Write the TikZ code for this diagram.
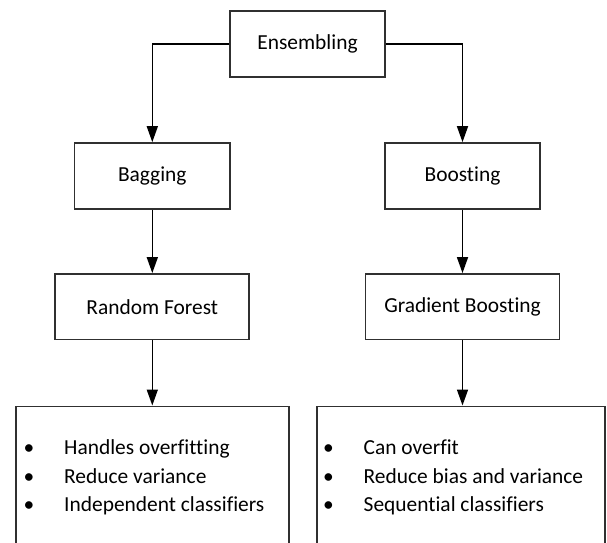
\documentclass[tikz,border=0pt]{standalone}
\usepackage{fontspec}
\setmainfont[Ligatures=NoCommon]{Carlito}
\usetikzlibrary{arrows.meta}
\definecolor{edge}{HTML}{303030}
\begin{document}
\begin{tikzpicture}[x=1bp,y=-1bp,
  box/.style={draw=edge,line width=1.7bp,fill=white,inner sep=0pt,font=\fontsize{21.5}{24}\selectfont},
  conn/.style={line width=1.6bp,-{Triangle[length=16bp,width=11bp]}},
  item/.style={anchor=base west,inner sep=0pt,font=\fontsize{21.5}{24}\selectfont},
  bul/.style={anchor=base,inner sep=0pt,font=\fontsize{21.5}{24}\selectfont}]
\useasboundingbox (0,0) rectangle (607,543);
\node[box,minimum width=155bp,minimum height=66bp] (ens) at (307.5,44) {Ensembling};
\node[box,minimum width=155.5bp,minimum height=66bp] (bag) at (152.3,176) {Bagging};
\node[box,minimum width=155.5bp,minimum height=66bp] (boo) at (462.5,176) {Boosting};
\node[box,minimum width=194bp,minimum height=65.5bp] (rf) at (152.3,306.7) {Random Forest};
\node[box,minimum width=194bp,minimum height=65.5bp] (gb) at (462.5,306.7) {Gradient Boosting};
\node[box,minimum width=273bp,minimum height=170bp,anchor=north] (lb) at (152.5,405.5) {};
\node[box,minimum width=288bp,minimum height=170bp,anchor=north] (rb) at (461,405.5) {};
\draw[conn] (ens.west) -| (bag.north);
\draw[conn] (ens.east) -| (boo.north);
\draw[conn] (bag) -- (rf);
\draw[conn] (boo) -- (gb);
\draw[conn] (rf.south) -- (rf.south |- lb.north);
\draw[conn] (gb.south) -- (gb.south |- rb.north);
\node[bul] (lb1) at (29,454.5) {•};
\node[bul] (lb2) at (29,483.5) {•};
\node[bul] (lb3) at (29,511.8) {•};
\node[item] (lt1) at (64,454.5) {Handles overfitting};
\node[item] (lt2) at (64,483.5) {Reduce variance};
\node[item] (lt3) at (64,511.8) {Independent classifiers};
\node[bul] (rb1) at (328.5,454.5) {•};
\node[bul] (rb2) at (328.5,483.5) {•};
\node[bul] (rb3) at (328.5,511.8) {•};
\node[item] (rt1) at (363.5,454.5) {Can overfit};
\node[item] (rt2) at (363.5,483.5) {Reduce bias and variance};
\node[item] (rt3) at (363.5,511.8) {Sequential classifiers};
\end{tikzpicture}
\end{document}
